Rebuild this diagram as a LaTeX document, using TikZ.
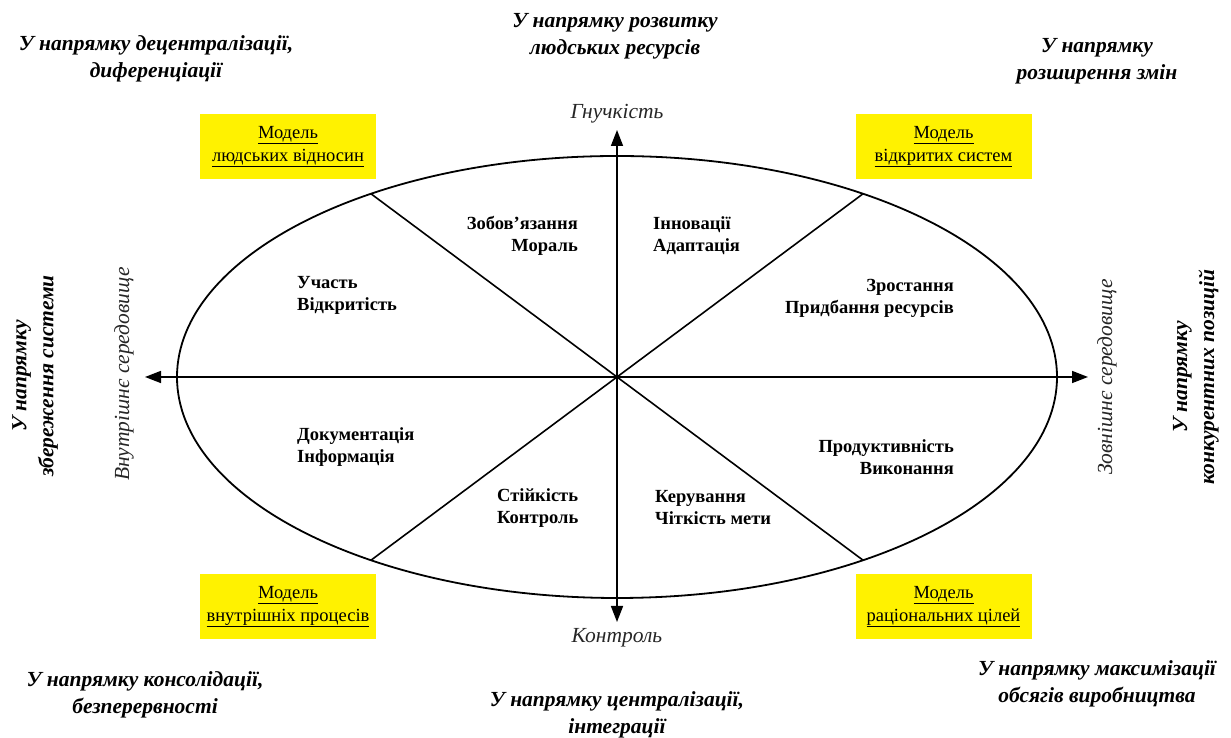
\documentclass[tikz,border=0pt]{standalone}
\usepackage{fontspec}
\setmainfont{Liberation Serif}
\usetikzlibrary{arrows.meta,calc}

\tikzset{
  axis/.style={line width=1.6pt, -{Triangle[length=16pt,width=12pt]}},
  spoke/.style={line width=1.6pt},
  rim/.style={line width=1.8pt},
  dirlabel/.style={font=\fontsize{21.5}{27}\selectfont\bfseries\itshape, align=center, inner sep=0pt},
  axislabel/.style={font=\fontsize{21.5}{25}\selectfont\itshape, text=black!85, inner sep=0pt},
  modelbox/.style={fill=yellow, minimum width=176pt, minimum height=65pt, align=center,
    inner sep=0pt, font=\fontsize{18.5}{23}\selectfont},
  value/.style={font=\fontsize{18.5}{22}\selectfont\bfseries, inner sep=0pt}
}

\begin{document}
\begin{tikzpicture}[x=1pt,y=1pt]
  \useasboundingbox (0,0) rectangle (1231,738);

  % centre of the diagram and the ellipse
  \coordinate (O) at (617,361);
  \draw[rim] (O) ellipse [x radius=440, y radius=221];

  % spokes from the centre to the ellipse
  \coordinate (pNE) at ($(O)+(56:440 and 221)$);
  \coordinate (pNW) at ($(O)+(124:440 and 221)$);
  \coordinate (pSW) at ($(O)+(236:440 and 221)$);
  \coordinate (pSE) at ($(O)+(304:440 and 221)$);
  \draw[spoke] (O) -- (pNE);
  \draw[spoke] (O) -- (pNW);
  \draw[spoke] (O) -- (pSW);
  \draw[spoke] (O) -- (pSE);

  % axis ends
  \coordinate (tN) at (617,608);
  \coordinate (tS) at (617,116);
  \coordinate (tW) at (145,361);
  \coordinate (tE) at (1088,361);
  \draw[axis] (O) -- (tN);
  \draw[axis] (O) -- (tS);
  \draw[axis] (O) -- (tW);
  \draw[axis] (O) -- (tE);

  % axis labels
  \node[axislabel] (flex) at (617,624) {Гнучкість};
  \node[axislabel] (ctrl) at (617,100) {Контроль};
  \node[axislabel, rotate=90] (inner) at (124,364) {Внутрішнє середовище};
  \node[axislabel, rotate=90] (outer) at (1107,361) {Зовнішнє середовище};

  % directions of development
  \node[dirlabel] (dN)  at (615,702) {У напрямку розвитку\\людських ресурсів};
  \node[dirlabel] (dNW) at (156,679) {У напрямку децентралізації,\\диференціації};
  \node[dirlabel] (dNE) at (1097,677) {У напрямку\\розширення змін};
  \node[dirlabel] (dSW) at (145,43) {У напрямку консолідації,\\безперервності};
  \node[dirlabel] (dS)  at (617,23) {У напрямку централізації,\\інтеграції};
  \node[dirlabel] (dSE) at (1097,54) {У напрямку максимізації\\обсягів виробництва};
  \node[dirlabel, rotate=90] (dW) at (35,362) {У напрямку\\збереження системи};
  \node[dirlabel, rotate=90] (dE) at (1196,361) {У напрямку\\конкурентних позицій};

  % organisational models
  \node[modelbox] (mHR) at (288,591.5) {\underline{Модель}\\\underline{людських відносин}};
  \node[modelbox] (mOS) at (943.5,591.5) {\underline{Модель}\\\underline{відкритих систем}};
  \node[modelbox] (mIP) at (288,131.5) {\underline{Модель}\\\underline{внутрішніх процесів}};
  \node[modelbox] (mRG) at (943.5,131.5) {\underline{Модель}\\\underline{раціональних цілей}};

  % values in each sector
  \node[value, anchor=east, align=right] (v1) at (578,502) {Зобов’язання\\Мораль};
  \node[value, anchor=west, align=left]  (v2) at (653,502) {Інновації\\Адаптація};
  \node[value, anchor=west, align=left]  (v3) at (297,443) {Участь\\Відкритість};
  \node[value, anchor=east, align=right] (v4) at (954,440) {Зростання\\Придбання ресурсів};
  \node[value, anchor=west, align=left]  (v5) at (297,291) {Документація\\Інформація};
  \node[value, anchor=east, align=right] (v6) at (954,281) {Продуктивність\\Виконання};
  \node[value, anchor=west, align=left]  (v7) at (497,230) {Стійкість\\Контроль};
  \node[value, anchor=west, align=left]  (v8) at (655,230) {Керування\\Чіткість мети};
\end{tikzpicture}
\end{document}
